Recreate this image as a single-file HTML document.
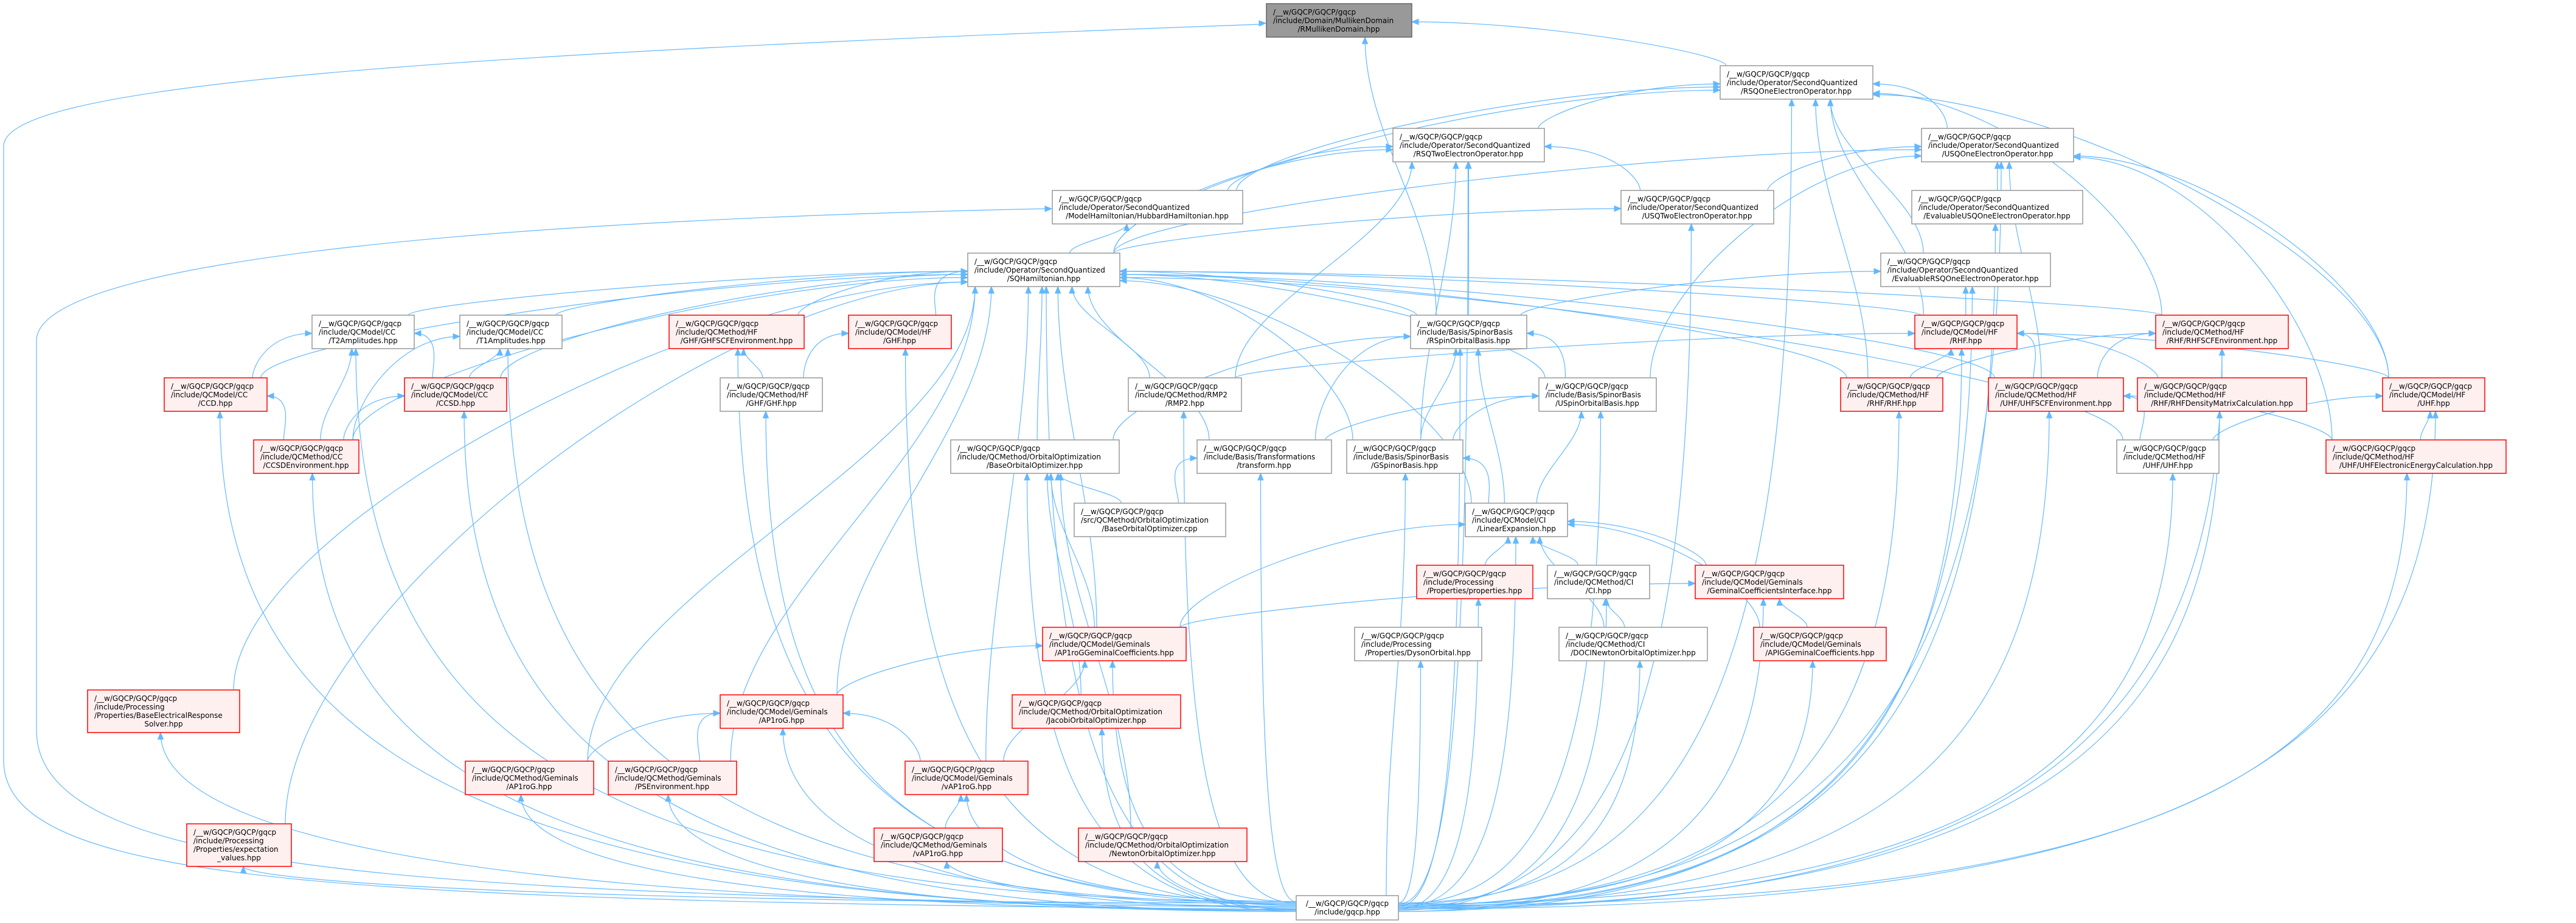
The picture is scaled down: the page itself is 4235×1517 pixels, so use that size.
<!DOCTYPE html>
<html><head><meta charset="utf-8">
<style>
html,body{margin:0;padding:0;background:#fff;}
svg{display:block;}
text{font-family:"DejaVu Sans","Liberation Sans",sans-serif;font-size:12px;fill:#000;}
.w{fill:#fff;stroke:#999;stroke-width:1.5;}
.r{fill:#fff0f0;stroke:#ff0000;stroke-width:1.5;}
.g{fill:#999;stroke:#666;stroke-width:1.5;}
.m{text-anchor:middle;}
#edges path{fill:none;stroke:#63b8ff;stroke-width:1.2;}
#edges polygon{fill:#63b8ff;stroke:#63b8ff;stroke-width:1;}
</style></head>
<body>
<svg id="s" width="4235" height="1517" viewBox="0 0 4235 1517" xmlns="http://www.w3.org/2000/svg">
<g id="edges"></g>
<g id="nodes">
<g><rect class="g" x="2082" y="6" width="239" height="55"/><text x="2093" y="24">/__w/GQCP/GQCP/gqcp</text><text x="2093" y="38">/include/Domain/MullikenDomain</text><text class="m" x="2201" y="52">/RMullikenDomain.hpp</text></g>
<g><rect class="w" x="2828" y="108" width="251" height="55"/><text x="2839" y="126">/__w/GQCP/GQCP/gqcp</text><text x="2839" y="140">/include/Operator/SecondQuantized</text><text class="m" x="2953" y="154">/RSQOneElectronOperator.hpp</text></g>
<g><rect class="w" x="2290" y="211" width="249" height="55"/><text x="2301" y="229">/__w/GQCP/GQCP/gqcp</text><text x="2301" y="243">/include/Operator/SecondQuantized</text><text class="m" x="2414" y="257">/RSQTwoElectronOperator.hpp</text></g>
<g><rect class="w" x="3159" y="211" width="250" height="55"/><text x="3170" y="229">/__w/GQCP/GQCP/gqcp</text><text x="3170" y="243">/include/Operator/SecondQuantized</text><text class="m" x="3284" y="257">/USQOneElectronOperator.hpp</text></g>
<g><rect class="w" x="1730" y="313" width="313" height="55"/><text x="1741" y="331">/__w/GQCP/GQCP/gqcp</text><text x="1741" y="345">/include/Operator/SecondQuantized</text><text class="m" x="1886" y="359">/ModelHamiltonian/HubbardHamiltonian.hpp</text></g>
<g><rect class="w" x="2665" y="313" width="251" height="55"/><text x="2676" y="331">/__w/GQCP/GQCP/gqcp</text><text x="2676" y="345">/include/Operator/SecondQuantized</text><text class="m" x="2790" y="359">/USQTwoElectronOperator.hpp</text></g>
<g><rect class="w" x="3143" y="313" width="281" height="55"/><text x="3154" y="331">/__w/GQCP/GQCP/gqcp</text><text x="3154" y="345">/include/Operator/SecondQuantized</text><text class="m" x="3283" y="359">/EvaluableUSQOneElectronOperator.hpp</text></g>
<g><rect class="w" x="1591" y="416" width="250" height="55"/><text x="1602" y="434">/__w/GQCP/GQCP/gqcp</text><text x="1602" y="448">/include/Operator/SecondQuantized</text><text class="m" x="1716" y="462">/SQHamiltonian.hpp</text></g>
<g><rect class="w" x="3092" y="416" width="279" height="55"/><text x="3103" y="434">/__w/GQCP/GQCP/gqcp</text><text x="3103" y="448">/include/Operator/SecondQuantized</text><text class="m" x="3231" y="462">/EvaluableRSQOneElectronOperator.hpp</text></g>
<g><rect class="w" x="513" y="518" width="168" height="55"/><text x="524" y="536">/__w/GQCP/GQCP/gqcp</text><text x="524" y="550">/include/QCModel/CC</text><text class="m" x="597" y="564">/T2Amplitudes.hpp</text></g>
<g><rect class="w" x="756" y="518" width="168" height="55"/><text x="767" y="536">/__w/GQCP/GQCP/gqcp</text><text x="767" y="550">/include/QCModel/CC</text><text class="m" x="840" y="564">/T1Amplitudes.hpp</text></g>
<g><rect class="r" x="1100" y="518" width="222" height="55"/><text x="1111" y="536">/__w/GQCP/GQCP/gqcp</text><text x="1111" y="550">/include/QCMethod/HF</text><text class="m" x="1211" y="564">/GHF/GHFSCFEnvironment.hpp</text></g>
<g><rect class="r" x="1395" y="518" width="169" height="55"/><text x="1406" y="536">/__w/GQCP/GQCP/gqcp</text><text x="1406" y="550">/include/QCModel/HF</text><text class="m" x="1479" y="564">/GHF.hpp</text></g>
<g><rect class="w" x="2319" y="518" width="191" height="55"/><text x="2330" y="536">/__w/GQCP/GQCP/gqcp</text><text x="2330" y="550">/include/Basis/SpinorBasis</text><text class="m" x="2414" y="564">/RSpinOrbitalBasis.hpp</text></g>
<g><rect class="r" x="3148" y="518" width="168" height="55"/><text x="3159" y="536">/__w/GQCP/GQCP/gqcp</text><text x="3159" y="550">/include/QCModel/HF</text><text class="m" x="3232" y="564">/RHF.hpp</text></g>
<g><rect class="r" x="3544" y="518" width="218" height="55"/><text x="3555" y="536">/__w/GQCP/GQCP/gqcp</text><text x="3555" y="550">/include/QCMethod/HF</text><text class="m" x="3653" y="564">/RHF/RHFSCFEnvironment.hpp</text></g>
<g><rect class="r" x="270" y="621" width="169" height="55"/><text x="281" y="639">/__w/GQCP/GQCP/gqcp</text><text x="281" y="653">/include/QCModel/CC</text><text class="m" x="354" y="667">/CCD.hpp</text></g>
<g><rect class="r" x="665" y="621" width="168" height="55"/><text x="676" y="639">/__w/GQCP/GQCP/gqcp</text><text x="676" y="653">/include/QCModel/CC</text><text class="m" x="749" y="667">/CCSD.hpp</text></g>
<g><rect class="w" x="1184" y="621" width="168" height="55"/><text x="1195" y="639">/__w/GQCP/GQCP/gqcp</text><text x="1195" y="653">/include/QCMethod/HF</text><text class="m" x="1268" y="667">/GHF/GHF.hpp</text></g>
<g><rect class="w" x="1855" y="621" width="186" height="55"/><text x="1866" y="639">/__w/GQCP/GQCP/gqcp</text><text x="1866" y="653">/include/QCMethod/RMP2</text><text class="m" x="1948" y="667">/RMP2.hpp</text></g>
<g><rect class="w" x="2530" y="621" width="193" height="55"/><text x="2541" y="639">/__w/GQCP/GQCP/gqcp</text><text x="2541" y="653">/include/Basis/SpinorBasis</text><text class="m" x="2626" y="667">/USpinOrbitalBasis.hpp</text></g>
<g><rect class="r" x="3026" y="621" width="168" height="55"/><text x="3037" y="639">/__w/GQCP/GQCP/gqcp</text><text x="3037" y="653">/include/QCMethod/HF</text><text class="m" x="3110" y="667">/RHF/RHF.hpp</text></g>
<g><rect class="r" x="3269" y="621" width="222" height="55"/><text x="3280" y="639">/__w/GQCP/GQCP/gqcp</text><text x="3280" y="653">/include/QCMethod/HF</text><text class="m" x="3380" y="667">/UHF/UHFSCFEnvironment.hpp</text></g>
<g><rect class="r" x="3514" y="621" width="278" height="55"/><text x="3525" y="639">/__w/GQCP/GQCP/gqcp</text><text x="3525" y="653">/include/QCMethod/HF</text><text class="m" x="3653" y="667">/RHF/RHFDensityMatrixCalculation.hpp</text></g>
<g><rect class="r" x="3917" y="621" width="168" height="55"/><text x="3928" y="639">/__w/GQCP/GQCP/gqcp</text><text x="3928" y="653">/include/QCModel/HF</text><text class="m" x="4001" y="667">/UHF.hpp</text></g>
<g><rect class="r" x="417" y="723" width="173" height="55"/><text x="428" y="741">/__w/GQCP/GQCP/gqcp</text><text x="428" y="755">/include/QCMethod/CC</text><text class="m" x="503" y="769">/CCSDEnvironment.hpp</text></g>
<g><rect class="w" x="1563" y="723" width="277" height="55"/><text x="1574" y="741">/__w/GQCP/GQCP/gqcp</text><text x="1574" y="755">/include/QCMethod/OrbitalOptimization</text><text class="m" x="1701" y="769">/BaseOrbitalOptimizer.hpp</text></g>
<g><rect class="w" x="1968" y="723" width="221" height="55"/><text x="1979" y="741">/__w/GQCP/GQCP/gqcp</text><text x="1979" y="755">/include/Basis/Transformations</text><text class="m" x="2078" y="769">/transform.hpp</text></g>
<g><rect class="w" x="2214" y="723" width="191" height="55"/><text x="2225" y="741">/__w/GQCP/GQCP/gqcp</text><text x="2225" y="755">/include/Basis/SpinorBasis</text><text class="m" x="2309" y="769">/GSpinorBasis.hpp</text></g>
<g><rect class="w" x="3480" y="723" width="168" height="55"/><text x="3491" y="741">/__w/GQCP/GQCP/gqcp</text><text x="3491" y="755">/include/QCMethod/HF</text><text class="m" x="3564" y="769">/UHF/UHF.hpp</text></g>
<g><rect class="r" x="3824" y="723" width="296" height="55"/><text x="3835" y="741">/__w/GQCP/GQCP/gqcp</text><text x="3835" y="755">/include/QCMethod/HF</text><text class="m" x="3972" y="769">/UHF/UHFElectronicEnergyCalculation.hpp</text></g>
<g><rect class="w" x="1766" y="827" width="249" height="55"/><text x="1777" y="845">/__w/GQCP/GQCP/gqcp</text><text x="1777" y="859">/src/QCMethod/OrbitalOptimization</text><text class="m" x="1890" y="873">/BaseOrbitalOptimizer.cpp</text></g>
<g><rect class="w" x="2409" y="827" width="168" height="55"/><text x="2420" y="845">/__w/GQCP/GQCP/gqcp</text><text x="2420" y="859">/include/QCModel/CI</text><text class="m" x="2493" y="873">/LinearExpansion.hpp</text></g>
<g><rect class="r" x="2329" y="929" width="191" height="55"/><text x="2340" y="947">/__w/GQCP/GQCP/gqcp</text><text x="2340" y="961">/include/Processing</text><text class="m" x="2424" y="975">/Properties/properties.hpp</text></g>
<g><rect class="w" x="2544" y="929" width="168" height="55"/><text x="2555" y="947">/__w/GQCP/GQCP/gqcp</text><text x="2555" y="961">/include/QCMethod/CI</text><text class="m" x="2628" y="975">/CI.hpp</text></g>
<g><rect class="r" x="2787" y="929" width="244" height="55"/><text x="2798" y="947">/__w/GQCP/GQCP/gqcp</text><text x="2798" y="961">/include/QCModel/Geminals</text><text class="m" x="2909" y="975">/GeminalCoefficientsInterface.hpp</text></g>
<g><rect class="r" x="1714" y="1031" width="236" height="55"/><text x="1725" y="1049">/__w/GQCP/GQCP/gqcp</text><text x="1725" y="1063">/include/QCModel/Geminals</text><text class="m" x="1832" y="1077">/AP1roGGeminalCoefficients.hpp</text></g>
<g><rect class="w" x="2227" y="1031" width="209" height="55"/><text x="2238" y="1049">/__w/GQCP/GQCP/gqcp</text><text x="2238" y="1063">/include/Processing</text><text class="m" x="2331" y="1077">/Properties/DysonOrbital.hpp</text></g>
<g><rect class="w" x="2563" y="1031" width="244" height="55"/><text x="2574" y="1049">/__w/GQCP/GQCP/gqcp</text><text x="2574" y="1063">/include/QCMethod/CI</text><text class="m" x="2685" y="1077">/DOCINewtonOrbitalOptimizer.hpp</text></g>
<g><rect class="r" x="2883" y="1031" width="218" height="55"/><text x="2894" y="1049">/__w/GQCP/GQCP/gqcp</text><text x="2894" y="1063">/include/QCModel/Geminals</text><text class="m" x="2992" y="1077">/APIGGeminalCoefficients.hpp</text></g>
<g><rect class="r" x="144" y="1134" width="250" height="70"/><text x="155" y="1152">/__w/GQCP/GQCP/gqcp</text><text x="155" y="1166">/include/Processing</text><text x="155" y="1180">/Properties/BaseElectricalResponse</text><text class="m" x="269" y="1194">Solver.hpp</text></g>
<g><rect class="r" x="1184" y="1142" width="202" height="55"/><text x="1195" y="1160">/__w/GQCP/GQCP/gqcp</text><text x="1195" y="1174">/include/QCModel/Geminals</text><text class="m" x="1285" y="1188">/AP1roG.hpp</text></g>
<g><rect class="r" x="1664" y="1142" width="277" height="55"/><text x="1675" y="1160">/__w/GQCP/GQCP/gqcp</text><text x="1675" y="1174">/include/QCMethod/OrbitalOptimization</text><text class="m" x="1802" y="1188">/JacobiOrbitalOptimizer.hpp</text></g>
<g><rect class="r" x="765" y="1251" width="211" height="55"/><text x="776" y="1269">/__w/GQCP/GQCP/gqcp</text><text x="776" y="1283">/include/QCMethod/Geminals</text><text class="m" x="870" y="1297">/AP1roG.hpp</text></g>
<g><rect class="r" x="1000" y="1251" width="211" height="55"/><text x="1011" y="1269">/__w/GQCP/GQCP/gqcp</text><text x="1011" y="1283">/include/QCMethod/Geminals</text><text class="m" x="1105" y="1297">/PSEnvironment.hpp</text></g>
<g><rect class="r" x="1488" y="1251" width="202" height="55"/><text x="1499" y="1269">/__w/GQCP/GQCP/gqcp</text><text x="1499" y="1283">/include/QCModel/Geminals</text><text class="m" x="1589" y="1297">/vAP1roG.hpp</text></g>
<g><rect class="r" x="307" y="1354" width="172" height="70"/><text x="318" y="1372">/__w/GQCP/GQCP/gqcp</text><text x="318" y="1386">/include/Processing</text><text x="318" y="1400">/Properties/expectation</text><text class="m" x="393" y="1414">_values.hpp</text></g>
<g><rect class="r" x="1437" y="1361" width="211" height="55"/><text x="1448" y="1379">/__w/GQCP/GQCP/gqcp</text><text x="1448" y="1393">/include/QCMethod/Geminals</text><text class="m" x="1542" y="1407">/vAP1roG.hpp</text></g>
<g><rect class="r" x="1773" y="1361" width="277" height="55"/><text x="1784" y="1379">/__w/GQCP/GQCP/gqcp</text><text x="1784" y="1393">/include/QCMethod/OrbitalOptimization</text><text class="m" x="1911" y="1407">/NewtonOrbitalOptimizer.hpp</text></g>
<g><rect class="w" x="2131" y="1472" width="168" height="40"/><text class="m" x="2215" y="1489">/__w/GQCP/GQCP/gqcp</text><text class="m" x="2215" y="1503">/include/gqcp.hpp</text></g>
</g>
</svg>
<script>
var B={mull:[2082,6,239,55],rsq1:[2828,108,251,55],rsq2:[2290,211,249,55],usq1:[3159,211,250,55],hub:[1730,313,313,55],usq2:[2665,313,251,55],evu:[3143,313,281,55],sqh:[1591,416,250,55],evr:[3092,416,279,55],t2:[513,518,168,55],t1:[756,518,168,55],ghfscf:[1100,518,222,55],ghfm:[1395,518,169,55],rsob:[2319,518,191,55],rhfm:[3148,518,168,55],rhfscf:[3544,518,218,55],ccd:[270,621,169,55],ccsd:[665,621,168,55],ghf:[1184,621,168,55],rmp2:[1855,621,186,55],usob:[2530,621,193,55],rhf:[3026,621,168,55],uhfscf:[3269,621,222,55],rhfdm:[3514,621,278,55],uhfm:[3917,621,168,55],ccsdenv:[417,723,173,55],boo:[1563,723,277,55],trans:[1968,723,221,55],gsb:[2214,723,191,55],uhf:[3480,723,168,55],uhfee:[3824,723,296,55],boocpp:[1766,827,249,55],lin:[2409,827,168,55],props:[2329,929,191,55],ci:[2544,929,168,55],gci:[2787,929,244,55],ap1gc:[1714,1031,236,55],dyson:[2227,1031,209,55],doci:[2563,1031,244,55],apig:[2883,1031,218,55],bers:[144,1134,250,70],ap1m:[1184,1142,202,55],jac:[1664,1142,277,55],ap1:[765,1251,211,55],ps:[1000,1251,211,55],vap1m:[1488,1251,202,55],expv:[307,1354,172,70],vap1:[1437,1361,211,55],newton:[1773,1361,277,55],gqcp:[2131,1472,168,40]};
var E=[['rsq1','mull'],['rsob','mull'],
['rsq2','rsq1'],['usq1','rsq1'],['hub','rsq1'],['sqh','rsq1'],['evr','rsq1'],['rhfm','rsq1'],['uhfm','rsq1'],['rhfscf','rsq1'],['rhf','rsq1'],
['hub','rsq2'],['sqh','rsq2'],['usq2','rsq2'],['rsob','rsq2'],['gsb','rsq2'],['rmp2','rsq2'],
['usq2','usq1'],['evu','usq1'],['sqh','usq1'],['uhfm','usq1'],['uhfscf','usq1'],['usob','usq1'],['uhfee','usq1'],
['sqh','hub'],['sqh','usq2'],['rhfm','evr'],['rsob','evr'],
['t2','sqh'],['t1','sqh'],['ghfscf','sqh'],['ghfm','sqh'],['ccd','sqh'],['ccsd','sqh'],['ccsdenv','sqh'],['rmp2','sqh'],['boo','sqh'],['trans','sqh'],['gsb','sqh'],['rsob','sqh'],['usob','sqh'],['rhfm','sqh'],['rhf','sqh'],['uhfscf','sqh'],['rhfscf','sqh'],['uhf','sqh'],['ap1gc','sqh'],['ap1m','sqh'],['ap1','sqh'],['ps','sqh'],['vap1m','sqh'],['bers','sqh'],['expv','sqh'],['lin','sqh'],
['ccd','t2'],['ccsd','t2'],['ccsdenv','t2'],['ccsd','t1'],['ccsdenv','t1'],['ccsdenv','ccd'],['ccsdenv','ccsd'],
['ghf','ghfscf'],['ghf','ghfm'],
['usob','rsob'],['trans','rsob'],['gsb','rsob'],['lin','rsob'],['boo','rsob'],
['trans','usob'],['gsb','usob'],['lin','usob'],
['lin','gsb'],['boocpp','boo'],['boocpp','trans'],['jac','boo'],['newton','boo'],['ap1gc','boo'],
['props','lin'],['ci','lin'],['gci','lin'],['apig','lin'],['doci','lin'],['ap1gc','lin'],
['ap1gc','gci'],['apig','gci'],['doci','ci'],
['ap1m','ap1gc'],['vap1m','ap1gc'],
['ap1','ap1m'],['ps','ap1m'],['vap1m','ap1m'],['vap1','vap1m'],
['rhf','rhfm'],['uhfscf','rhfm'],['rhfdm','rhfm'],['uhfm','rhfm'],['rmp2','rhfm'],
['rhf','rhfscf'],['rhfdm','rhfscf'],['uhfscf','rhfscf'],
['uhf','uhfscf'],['uhfee','uhfscf'],['uhf','uhfm'],['uhfee','uhfm']];
var G=document.getElementById('edges'),NS='http://www.w3.org/2000/svg';
function arrow(c2x,c2y,ex,ey){var dx=ex-c2x,dy=ey-c2y,l=Math.hypot(dx,dy)||1;dx/=l;dy/=l;var bx=ex-dx*11,by=ey-dy*11,px=-dy*4.5,py=dx*4.5;
var p=document.createElementNS(NS,'polygon');p.setAttribute('points',ex+','+ey+' '+(bx+px)+','+(by+py)+' '+(bx-px)+','+(by-py));G.appendChild(p);}
function path(d){var p=document.createElementNS(NS,'path');p.setAttribute('d',d);G.appendChild(p);}
function cx(b){return b[0]+b[2]/2;}
function clamp(v,a,b){return Math.max(a,Math.min(b,v));}
E.forEach(function(e){var c=B[e[0]],p=B[e[1]];
 var sx=clamp(cx(c)+(cx(p)-cx(c))*0.25,c[0]+10,c[0]+c[2]-10),sy=c[1];
 var ex,ey,c1x,c1y,c2x,c2y;var dx=cx(c)-cx(p),dy=c[1]-(p[1]+p[3]);
 if(Math.abs(dx)>p[2]/2+Math.max(dy,0)*1.2){
   ex=dx<0?p[0]:p[0]+p[2];ey=p[1]+p[3]*0.5+clamp(dy*0.05,-10,20);
   c1x=sx;c1y=sy-Math.max(dy,40)*0.4;c2x=ex+(dx<0?-1:1)*Math.abs(dx)*0.3;c2y=ey;
 }else{
   ex=clamp(cx(p)+dx*0.2,p[0]+12,p[0]+p[2]-12);ey=p[1]+p[3];
   c1x=sx;c1y=sy-dy*0.35;c2x=ex;c2y=ey+dy*0.35;
 }
 path('M'+sx+','+sy+' C'+c1x+','+c1y+' '+c2x+','+c2y+' '+ex+','+ey);arrow(c2x,c2y,ex,ey);});
var g=B.gqcp,gy=g[1]+20;
Object.keys(B).forEach(function(k,i){if(k=='gqcp'||k=='boocpp'||k=='mull'||k=='hub')return;var t=B[k];
 var ex=clamp(cx(t)+((i*7)%30)-15,t[0]+10,t[0]+t[2]-10),ey=t[1]+t[3];var sx,sy,c1x,c1y,c2x,c2y;
 if(ex<g[0]-20||ex>g[0]+g[2]+20){
   sx=ex<g[0]?g[0]:g[0]+g[2];sy=gy-10+(i%9)*2;
   var bend=sy-40-(i%6)*8;
   c1x=sx+(ex-sx)*0.75;c1y=sy;c2x=ex;c2y=Math.max(ey+(bend-ey)*0.2, ey+40);
   c2y=bend-(bend-ey)*0.25;
   if(c2y<ey+20)c2y=ey+20;
 }else{sx=clamp(ex,g[0]+20,g[0]+g[2]-20);sy=g[1];c1x=sx;c1y=sy-(sy-ey)*0.4;c2x=ex;c2y=ey+(sy-ey)*0.45;}
 path('M'+sx+','+sy+' C'+c1x+','+c1y+' '+c2x+','+c2y+' '+ex+','+ey);arrow(c2x,c2y,ex,ey);});
path('M2131,1495 C600,1480 6,1460 6,1250 L6,240 C6,140 700,90 2070,40');arrow(1500,60,2081,38);
path('M2131,1490 C700,1470 60,1440 60,1200 L60,560 C60,420 900,360 1720,343');arrow(1500,348,1729,343);
</script>
</body></html>
